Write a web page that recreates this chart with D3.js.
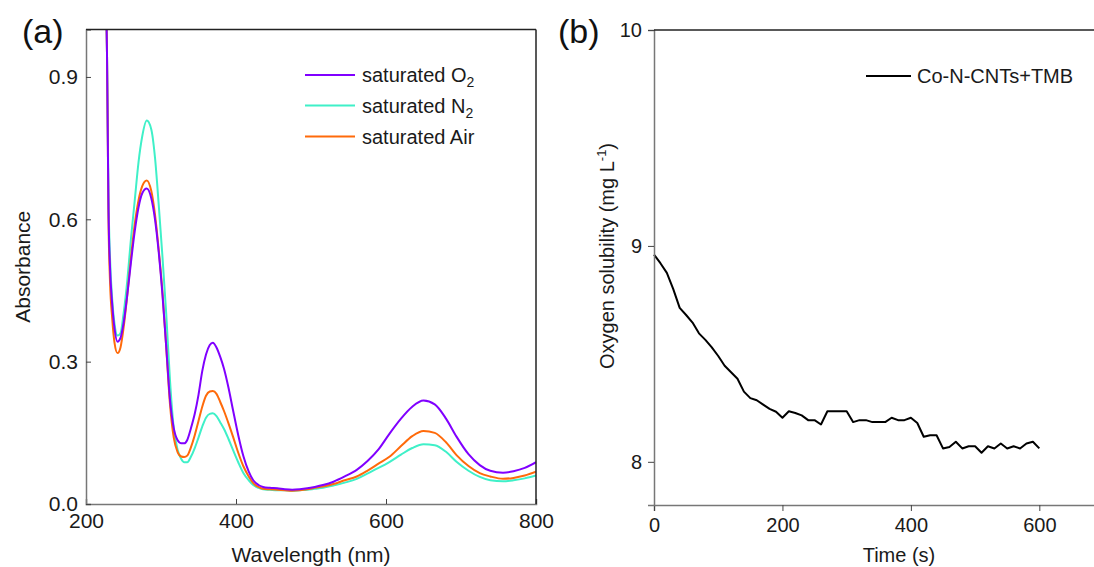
<!DOCTYPE html>
<html>
<head>
<meta charset="utf-8">
<script src="https://cdn.jsdelivr.net/npm/d3@7"></script>
<style>
  body { margin: 0; background: #fff; }
  svg { display: block; font-family: "Liberation Sans", Arial, sans-serif; }
</style>
</head>
<body>
<svg id="chart" width="1094" height="567"></svg>
<script>
// (a) UV-vis spectra
const wavelength = [227, 228, 229, 230, 232, 235, 238, 242, 246, 250, 255, 260, 265, 270, 275, 281, 287, 292, 297, 302, 307, 312, 317, 322, 327, 331, 335, 340, 345, 350, 355, 360, 365, 369, 374, 379, 384, 390, 396, 403, 410, 417, 423, 430, 436, 445, 455, 465, 475, 485, 495, 505, 516, 530, 545, 561, 575, 590, 605, 620, 635, 650, 665, 680, 694, 710, 725, 739, 756, 770, 785, 800]
const absO2 = [1.05, 0.95, 0.78, 0.62, 0.5, 0.42, 0.37, 0.342, 0.35, 0.38, 0.44, 0.51, 0.575, 0.625, 0.655, 0.665, 0.645, 0.6, 0.53, 0.44, 0.33, 0.22, 0.16, 0.135, 0.128, 0.128, 0.135, 0.16, 0.19, 0.23, 0.28, 0.315, 0.335, 0.34, 0.33, 0.31, 0.285, 0.245, 0.198, 0.145, 0.10, 0.068, 0.05, 0.04, 0.036, 0.034, 0.033, 0.031, 0.03, 0.031, 0.033, 0.036, 0.04, 0.047, 0.058, 0.072, 0.09, 0.115, 0.149, 0.18, 0.205, 0.218, 0.21, 0.18, 0.142, 0.105, 0.082, 0.07, 0.066, 0.069, 0.076, 0.088]
const absN2 = [1.05, 0.95, 0.8, 0.65, 0.52, 0.43, 0.38, 0.355, 0.36, 0.40, 0.47, 0.56, 0.64, 0.72, 0.775, 0.808, 0.79, 0.73, 0.63, 0.52, 0.40, 0.26, 0.16, 0.115, 0.095, 0.088, 0.088, 0.1, 0.118, 0.14, 0.163, 0.182, 0.19, 0.191, 0.185, 0.172, 0.158, 0.137, 0.114, 0.088, 0.065, 0.05, 0.04, 0.034, 0.031, 0.03, 0.029, 0.029, 0.028, 0.029, 0.03, 0.032, 0.034, 0.039, 0.045, 0.053, 0.064, 0.076, 0.089, 0.104, 0.118, 0.126, 0.124, 0.11, 0.089, 0.07, 0.057, 0.05, 0.048, 0.05, 0.054, 0.06]
const absAir = [1.05, 0.95, 0.78, 0.6, 0.47, 0.39, 0.34, 0.318, 0.33, 0.37, 0.44, 0.52, 0.59, 0.64, 0.67, 0.682, 0.66, 0.61, 0.535, 0.445, 0.33, 0.21, 0.14, 0.11, 0.1, 0.099, 0.102, 0.12, 0.145, 0.175, 0.205, 0.228, 0.237, 0.238, 0.232, 0.215, 0.196, 0.17, 0.142, 0.108, 0.079, 0.058, 0.044, 0.036, 0.032, 0.031, 0.03, 0.029, 0.028, 0.029, 0.031, 0.034, 0.037, 0.042, 0.05, 0.058, 0.07, 0.085, 0.1, 0.122, 0.143, 0.154, 0.15, 0.13, 0.103, 0.08, 0.065, 0.058, 0.053, 0.055, 0.06, 0.068]

// (b) oxygen solubility vs time
const time = [0, 10, 20, 30, 40, 50, 60, 70, 80, 90, 100, 110, 120, 130, 140, 150, 160, 170, 180, 190, 200, 210, 220, 230, 240, 250, 260, 270, 280, 290, 300, 310, 320, 330, 340, 350, 360, 370, 380, 390, 400, 410, 420, 430, 440, 450, 460, 470, 480, 490, 500, 510, 520, 530, 540, 550, 560, 570, 580, 590, 600]
const oxygen = [8.96, 8.92, 8.875, 8.80, 8.713, 8.68, 8.645, 8.595, 8.565, 8.53, 8.49, 8.445, 8.415, 8.385, 8.325, 8.295, 8.285, 8.265, 8.245, 8.232, 8.204, 8.234, 8.226, 8.215, 8.193, 8.193, 8.173, 8.234, 8.234, 8.234, 8.234, 8.184, 8.193, 8.193, 8.184, 8.184, 8.184, 8.204, 8.193, 8.193, 8.204, 8.18, 8.116, 8.123, 8.123, 8.062, 8.069, 8.093, 8.062, 8.072, 8.072, 8.042, 8.072, 8.062, 8.085, 8.062, 8.072, 8.062, 8.085, 8.093, 8.062]

const ticksA_x = [200, 400, 600, 800]
const ticksA_y = [0, 0.3, 0.6, 0.9]
const ticksB_x = [0, 200, 400, 600]
const ticksB_y = [8, 9, 10]

const seriesA = [
  {name: "O2", values: absO2, color: "#8000ff"},
  {name: "N2", values: absN2, color: "#3ff0c8"},
  {name: "Air", values: absAir, color: "#ff6a0a"}
]

const svg = d3.select("#chart")
const axisGray = "#777"
const frameBlack = "#222"
const textCol = "#1a1a1a"

// ---------- panel (a) ----------
const a = {left: 86, right: 536, top: 29.5, bottom: 504}
const xA = d3.scaleLinear().domain([200, 800]).range([a.left, a.right])
const yA = d3.scaleLinear().domain([0, 1.0]).range([a.bottom, a.top])

svg.append("clipPath").attr("id", "clipA")
  .append("rect").attr("x", a.left).attr("y", a.top)
  .attr("width", a.right - a.left).attr("height", a.bottom - a.top)

const lineA = d3.line().curve(d3.curveMonotoneX)
  .x((d, i) => xA(wavelength[i])).y(d => yA(d))

const gA = svg.append("g").attr("clip-path", "url(#clipA)")
// draw N2 first, then air, then O2 on top where they overlap
for (let s of [seriesA[1], seriesA[2], seriesA[0]]) {
  gA.append("path").datum(s.values)
    .attr("fill", "none").attr("stroke", s.color).attr("stroke-width", 2)
    .attr("d", lineA)
}

const axA_x = svg.append("g").attr("transform", `translate(0,${a.bottom})`)
  .call(d3.axisBottom(xA).tickValues(ticksA_x).tickSize(-5).tickPadding(9).tickFormat(d3.format("d")))
const axA_y = svg.append("g").attr("transform", `translate(${a.left},0)`)
  .call(d3.axisLeft(yA).tickValues(ticksA_y).tickSize(-5).tickPadding(8).tickFormat(d3.format(".1f")))
for (let ax of [axA_x, axA_y]) {
  ax.selectAll("path.domain").attr("stroke", axisGray).attr("stroke-width", 1.5)
  ax.selectAll(".tick line").attr("stroke", "#444")
  ax.selectAll(".tick text").attr("fill", textCol).style("font-size", "21px")
}
svg.append("line").attr("x1", a.left).attr("x2", a.right).attr("y1", a.top).attr("y2", a.top)
  .attr("stroke", frameBlack).attr("stroke-width", 1.5)
svg.append("line").attr("x1", a.right).attr("x2", a.right).attr("y1", a.top).attr("y2", a.bottom)
  .attr("stroke", frameBlack).attr("stroke-width", 1.5)

svg.append("text").attr("x", (a.left + a.right) / 2).attr("y", 562)
  .attr("text-anchor", "middle").attr("fill", textCol).style("font-size", "21px")
  .text("Wavelength (nm)")
svg.append("text").attr("transform", `translate(30,${(a.top + a.bottom) / 2}) rotate(-90)`)
  .attr("text-anchor", "middle").attr("fill", textCol).style("font-size", "21px")
  .text("Absorbance")
svg.append("text").attr("x", 22).attr("y", 43).attr("fill", "#111").style("font-size", "34px").text("(a)")

// legend (a)
const legRows = [75, 105.5, 136.5]
seriesA.forEach((s, i) => {
  svg.append("line").attr("x1", 305).attr("x2", 355).attr("y1", legRows[i]).attr("y2", legRows[i])
    .attr("stroke", s.color).attr("stroke-width", 2)
  const t = svg.append("text").attr("x", 362).attr("y", legRows[i] + 7)
    .attr("fill", textCol).style("font-size", "20px")
  if (s.name === "Air") {
    t.text("saturated Air")
  } else {
    t.append("tspan").text("saturated " + s.name[0])
    t.append("tspan").attr("dy", 5).style("font-size", "14px").text("2")
  }
})

// ---------- panel (b) ----------
const b = {left: 654, top: 30, bottom: 505}
const xB = d3.scaleLinear().domain([0, 700]).range([b.left, b.left + 700 * 0.6422])
const yB = d3.scaleLinear().domain([7.8, 10]).range([b.bottom, b.top])

const lineB = d3.line().x((d, i) => xB(time[i])).y(d => yB(d))
svg.append("path").datum(oxygen)
  .attr("fill", "none").attr("stroke", "#000").attr("stroke-width", 2)
  .attr("stroke-linejoin", "round").attr("d", lineB)

const axB_x = svg.append("g").attr("transform", `translate(0,${b.bottom})`)
  .call(d3.axisBottom(xB).tickValues(ticksB_x).tickSize(6).tickPadding(7).tickFormat(d3.format("d")))
const axB_y = svg.append("g").attr("transform", `translate(${b.left},0)`)
  .call(d3.axisLeft(yB).tickValues(ticksB_y).tickSize(6).tickPadding(6).tickFormat(d3.format("d")))
for (let ax of [axB_x, axB_y]) {
  ax.selectAll("path.domain").attr("stroke", axisGray).attr("stroke-width", 1.5)
  ax.selectAll(".tick line").attr("stroke", "#444")
  ax.selectAll(".tick text").attr("fill", textCol).style("font-size", "20px")
}
svg.append("line").attr("x1", b.left).attr("x2", 1094).attr("y1", b.top).attr("y2", b.top)
  .attr("stroke", frameBlack).attr("stroke-width", 1.5)

svg.append("text").attr("x", 899).attr("y", 562)
  .attr("text-anchor", "middle").attr("fill", textCol).style("font-size", "20px")
  .text("Time (s)")
const yt = svg.append("text").attr("transform", `translate(614,256) rotate(-90)`)
  .attr("text-anchor", "middle").attr("fill", textCol).style("font-size", "20px")
yt.append("tspan").text("Oxygen solubility (mg L")
yt.append("tspan").attr("dy", -8).style("font-size", "13px").text("-1")
yt.append("tspan").attr("dy", 8).text(")")
svg.append("text").attr("x", 558).attr("y", 43).attr("fill", "#111").style("font-size", "34px").text("(b)")

// legend (b)
svg.append("line").attr("x1", 866).attr("x2", 911).attr("y1", 76).attr("y2", 76)
  .attr("stroke", "#000").attr("stroke-width", 2)
svg.append("text").attr("x", 917).attr("y", 83).attr("fill", textCol).style("font-size", "20px")
  .text("Co-N-CNTs+TMB")
</script>
</body>
</html>
